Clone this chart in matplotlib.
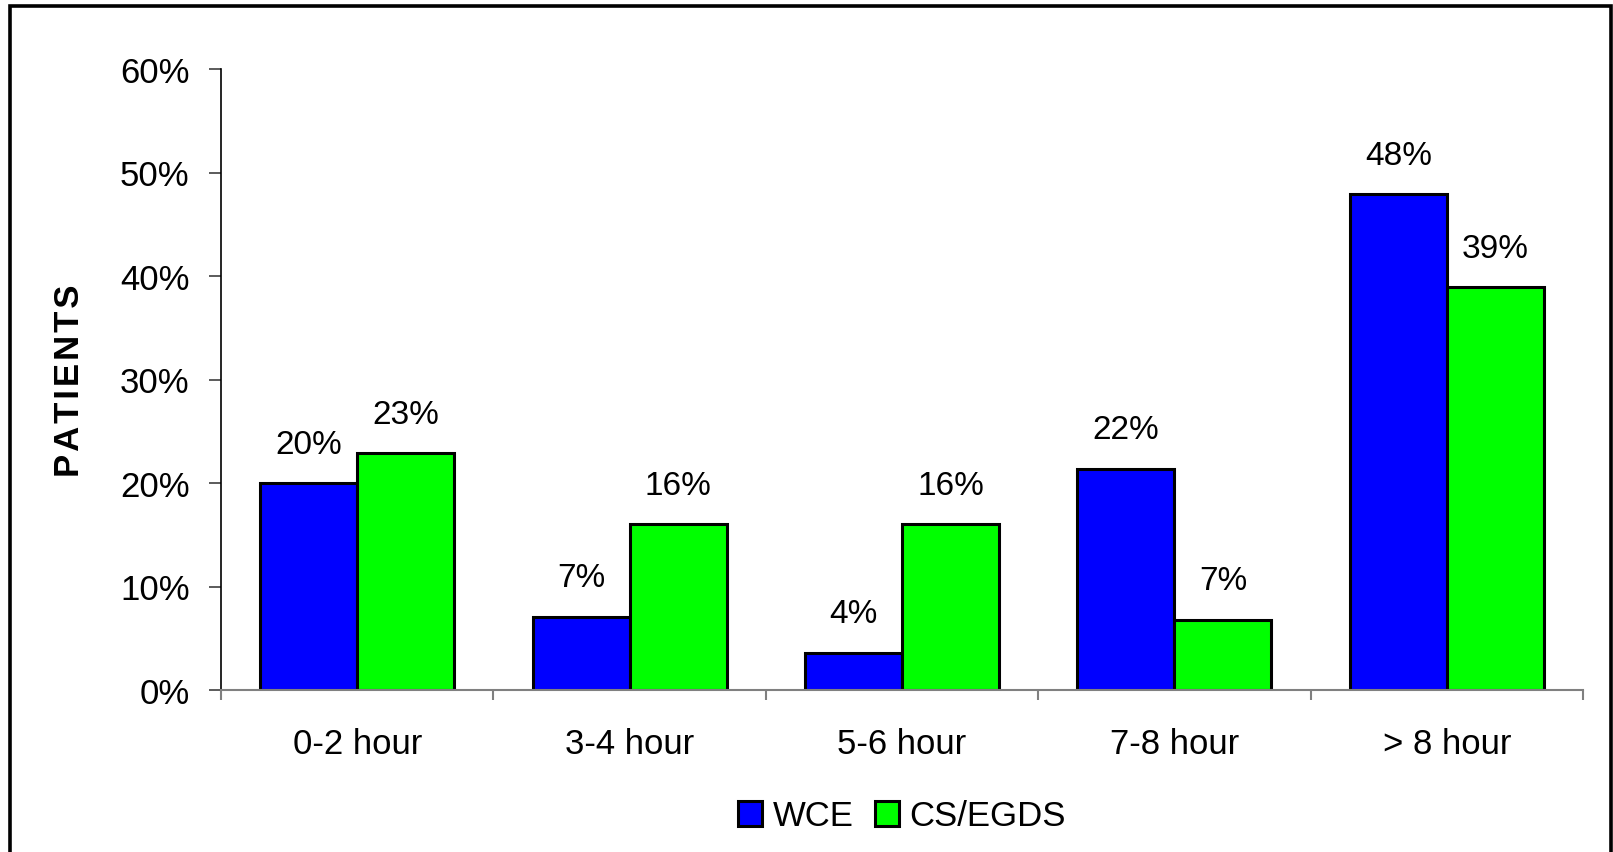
import matplotlib
matplotlib.use('Agg')
import matplotlib.pyplot as plt
from matplotlib.patches import Rectangle
import numpy as np

categories = ['0-2 hour', '3-4 hour', '5-6 hour', '7-8 hour', '> 8 hour']
wce = [20.0, 7.1, 3.6, 21.4, 47.9]
cs_egds = [22.9, 16.0, 16.0, 6.8, 38.9]
wce_labels = ['20%', '7%', '4%', '22%', '48%']
cs_labels = ['23%', '16%', '16%', '7%', '39%']
yticks = [0, 10, 20, 30, 40, 50, 60]

plt.rcParams['font.family'] = ['Liberation Sans', 'DejaVu Sans']

W, H = 1613, 853
fig = plt.figure(figsize=(W / 100, H / 100), dpi=100)
ax = fig.add_axes([221 / W, 1 - 691 / H, (1583 - 221) / W, (691 - 70) / H])

x = np.arange(len(categories))
w = 0.356
b1 = ax.bar(x - w / 2, wce, w, color='#0000FF', edgecolor='black', linewidth=2.2, label='WCE')
b2 = ax.bar(x + w / 2, cs_egds, w, color='#00FF00', edgecolor='black', linewidth=2.2, label='CS/EGDS')

# value labels above each bar
for bars, labs in [(b1, wce_labels), (b2, cs_labels)]:
    for bar, lab in zip(bars, labs):
        ax.annotate(lab, (bar.get_x() + bar.get_width() / 2, bar.get_height()),
                    xytext=(0, 28), textcoords='offset points',
                    ha='center', va='center', fontsize=24)

ax.set_xlim(-0.5, len(categories) - 0.5)
ax.set_ylim(0, 60)
ax.set_yticks(yticks)
ax.set_yticklabels(['%d%%' % v for v in yticks], fontsize=25)
ax.tick_params(axis='y', length=8.6, width=1.2, color='#404040', pad=14)

ax.set_xticks(x)
ax.set_xticklabels(categories, fontsize=25)
ax.tick_params(axis='x', which='major', length=0, pad=27)
ax.set_xticks(np.arange(-0.5, len(categories)), minor=True)
ax.tick_params(axis='x', which='minor', length=7, width=1.5, color='#808080')

for s in ['top', 'right']:
    ax.spines[s].set_visible(False)
ax.spines['left'].set_color('black')
ax.spines['left'].set_linewidth(1.2)
ax.spines['bottom'].set_color('#808080')
ax.spines['bottom'].set_linewidth(1.5)

ax.set_ylabel('P\u200aA\u200aT\u200aI\u200aE\u200aN\u200aT\u200aS', fontsize=25, fontweight='bold')
ax.yaxis.set_label_coords(-(221 - 86) / (1583 - 221), 0.5)

fig.legend(handles=[b1, b2], labels=['WCE', 'CS/EGDS'], loc='center',
           bbox_to_anchor=(902 / W, 1 - 817 / H), ncol=2, frameon=False,
           fontsize=25, handlelength=0.7, handleheight=0.7,
           handletextpad=0.3, columnspacing=0.6)

# outer frame
fig.patches.append(Rectangle((9.5 / W, -0.05), (1611 - 9.5) / W, 1.05 - 7 / H,
                             transform=fig.transFigure, fill=False,
                             edgecolor='black', linewidth=2.6))

fig.savefig('out.png', dpi=100)
